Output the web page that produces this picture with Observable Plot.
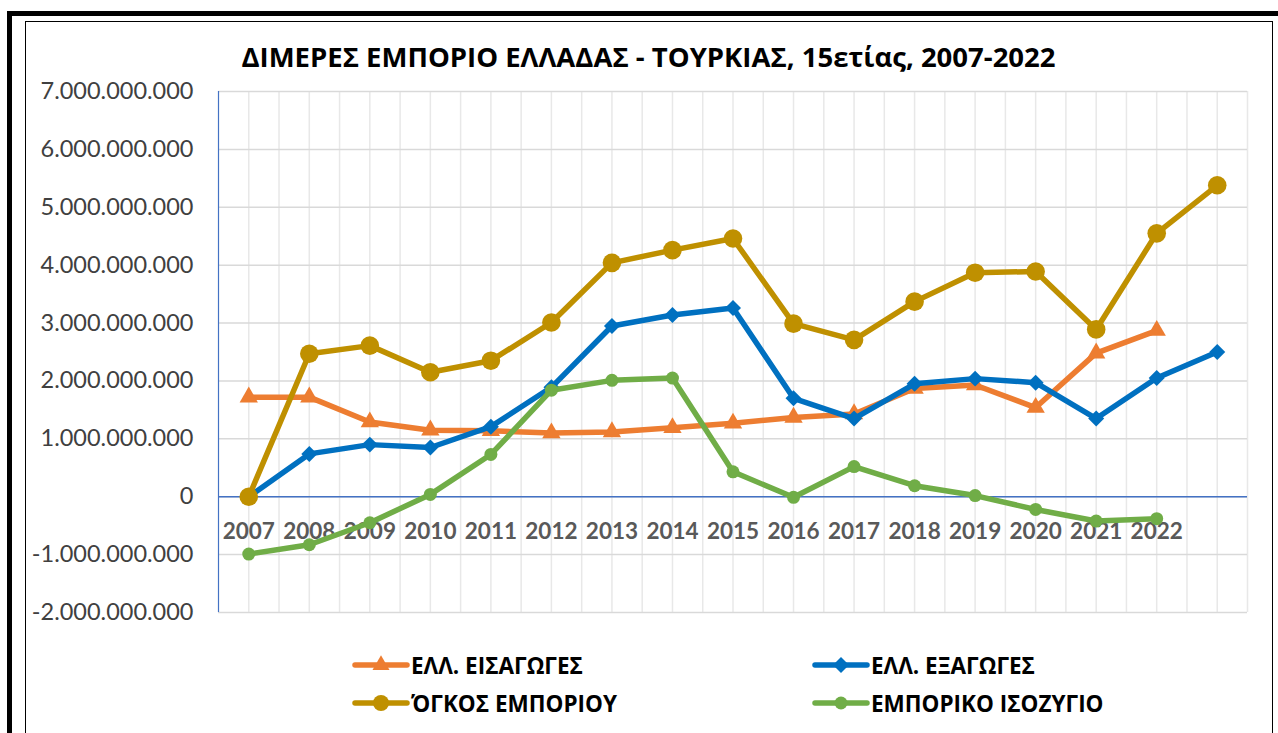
<!DOCTYPE html>
<html>
<head>
<meta charset="utf-8">
<script src="https://cdn.jsdelivr.net/npm/d3@7"></script>
<script src="https://cdn.jsdelivr.net/npm/@observablehq/plot@0.6"></script>
<style>
  html, body { margin: 0; padding: 0; background: #fff; }
  #wrap { position: relative; width: 1278px; height: 733px; overflow: hidden; background: #fff; }
  #outer { position: absolute; left: 7px; top: 11px; width: 1300px; height: 800px; border-left: 5px solid #000; border-top: 5px solid #000; }
  #inner { position: absolute; left: 25px; top: 21px; width: 1246px; height: 800px; border: 1.5px solid #000; }
  #title { position: absolute; left: 25px; width: 1247px; top: 38px; text-align: center; font-family: "Open Sans", sans-serif; font-weight: 700; font-size: 27.5px; color: #000; }
  #chart { position: absolute; left: 0; top: 70px; }
  .leg { position: absolute; display: flex; align-items: center; font-family: "Open Sans", sans-serif; font-weight: 700; font-size: 22.5px; color: #000; }
  .leg svg { margin-right: 1px; }
</style>
</head>
<body>
<div id="wrap">
  <div id="outer"></div>
  <div id="inner"></div>
  <div id="title">ΔΙΜΕΡΕΣ ΕΜΠΟΡΙΟ ΕΛΛΑΔΑΣ - ΤΟΥΡΚΙΑΣ, 15ετίας, 2007-2022</div>
  <div id="chart"></div>
  <div id="legend"></div>
</div>
<script>
// ---- data ----
const years = ["2007","2008","2009","2010","2011","2012","2013","2014","2015","2016","2017","2018","2019","2020","2021","2022",""];
const seriesNames = ["ΕΛΛ. ΕΙΣΑΓΩΓΕΣ", "ΕΛΛ. ΕΞΑΓΩΓΕΣ", "ΌΓΚΟΣ ΕΜΠΟΡΙΟΥ", "ΕΜΠΟΡΙΚΟ ΙΣΟΖΥΓΙΟ"];
const seriesColors = ["#ED7D31", "#0070C0", "#BF9000", "#70AD47"];
const imports = [1.72e9, 1.72e9, 1.29e9, 1.15e9, 1.14e9, 1.10e9, 1.12e9, 1.19e9, 1.27e9, 1.37e9, 1.43e9, 1.87e9, 1.93e9, 1.54e9, 2.48e9, 2.87e9];
const exportsV = [0, 0.74e9, 0.90e9, 0.85e9, 1.21e9, 1.89e9, 2.95e9, 3.14e9, 3.26e9, 1.70e9, 1.35e9, 1.95e9, 2.04e9, 1.97e9, 1.35e9, 2.05e9, 2.50e9];
const volume = [0, 2.47e9, 2.61e9, 2.15e9, 2.35e9, 3.01e9, 4.04e9, 4.26e9, 4.46e9, 2.99e9, 2.71e9, 3.37e9, 3.87e9, 3.89e9, 2.89e9, 4.55e9, 5.38e9];
const balance = [-0.99e9, -0.83e9, -0.45e9, 0.04e9, 0.73e9, 1.84e9, 2.01e9, 2.05e9, 0.43e9, -0.01e9, 0.52e9, 0.19e9, 0.02e9, -0.22e9, -0.42e9, -0.38e9];
const yTicks = [-2e9, -1e9, 0, 1e9, 2e9, 3e9, 4e9, 5e9, 6e9, 7e9];

// ---- build ----
const rows = (vals) => vals.map((v, i) => ({i, v}));
const fmt = d3.formatLocale({decimal: ",", thousands: ".", grouping: [3], currency: ["", ""], minus: "-"}).format(",");
const nCat = years.length;
const halfGrid = d3.range(1, 2 * nCat + 1).map(k => -0.5 + k / 2);
const labelIdx = years.map((y, i) => i).filter(i => years[i] !== "");

function series(vals, color, symbol, r) {
  return [
    Plot.line(rows(vals), {x: "i", y: "v", stroke: color, strokeWidth: 5.5, strokeLinejoin: "round", strokeLinecap: "round"}),
    Plot.dot(rows(vals), {x: "i", y: "v", fill: color, stroke: "none", symbol, r})
  ];
}

const chart = Plot.plot({
  width: 1278,
  height: 552,
  marginLeft: 218,
  marginRight: 31,
  marginTop: 21,
  marginBottom: 10,
  style: {background: "transparent", overflow: "visible"},
  x: {type: "linear", domain: [-0.5, nCat - 0.5], axis: null},
  y: {domain: [-2e9, 7e9], axis: null},
  marks: [
    Plot.gridX(halfGrid, {stroke: "#e8e8e8", strokeOpacity: 1, strokeWidth: 1.5}),
    Plot.gridY(yTicks, {stroke: "#d9d9d9", strokeOpacity: 1, strokeWidth: 1.5}),
    Plot.ruleX([-0.5], {stroke: "#4472C4", strokeWidth: 1.2}),
    Plot.ruleY([0], {stroke: "#4472C4", strokeWidth: 1.5}),
    Plot.axisY(yTicks, {tickSize: 0, tickPadding: 25, fontSize: 23.5, fontFamily: "Lato, sans-serif", fill: "#404040", tickFormat: fmt, label: null}),
    Plot.text(labelIdx, {x: d => d, y: () => 0, text: d => years[d], dy: 35, fontSize: 22.5, fontWeight: "bold", fontFamily: "Lato, sans-serif", fill: "#595959"}),
    ...series(imports, seriesColors[0], "triangle", 6.8),
    ...series(exportsV, seriesColors[1], "diamond2", 7.2),
    ...series(volume, seriesColors[2], "circle", 9.3),
    ...series(balance, seriesColors[3], "circle", 6.5)
  ]
});
document.getElementById("chart").append(chart);

// ---- legend ----
const legendSymbols = ["triangle", "diamond2", "circle", "circle"];
const legendR = [6.3, 7.2, 8, 6.5];
const legendPos = [[352, 665], [812, 665], [352, 703], [812, 703]];
const legend = document.getElementById("legend");
seriesNames.forEach((name, k) => {
  const div = document.createElement("div");
  div.className = "leg";
  div.style.left = legendPos[k][0] + "px";
  div.style.top = (legendPos[k][1] - 15) + "px";
  div.style.height = "30px";
  const sym = d3.symbol(d3["symbol" + {triangle: "Triangle", diamond2: "Diamond2", circle: "Circle"}[legendSymbols[k]]], Math.PI * legendR[k] ** 2)();
  div.innerHTML = `<svg width="58" height="30"><line x1="3" x2="55" y1="15" y2="15" stroke="${seriesColors[k]}" stroke-width="5.5" stroke-linecap="round"/><path transform="translate(29,15)" d="${sym}" fill="${seriesColors[k]}"/></svg><span>${name}</span>`;
  legend.append(div);
});
</script>
</body>
</html>
